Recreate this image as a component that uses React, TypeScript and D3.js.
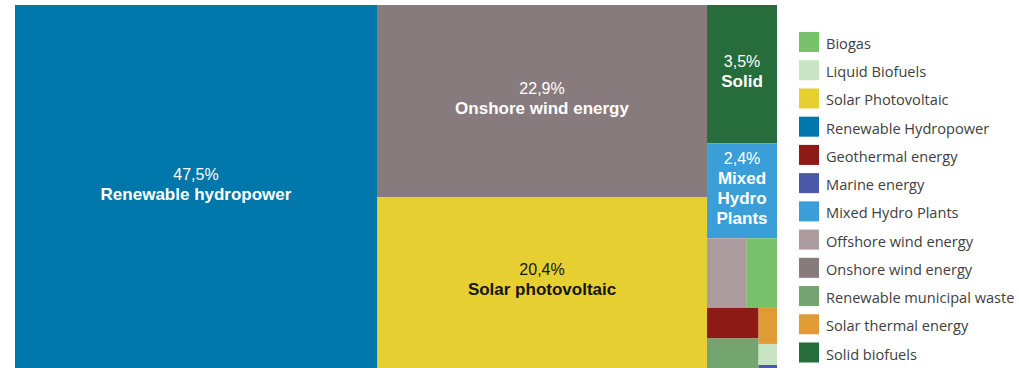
import React from 'react';
import * as d3 from 'd3';

const categories = [
  'Biogas',
  'Liquid Biofuels',
  'Solar Photovoltaic',
  'Renewable Hydropower',
  'Geothermal energy',
  'Marine energy',
  'Mixed Hydro Plants',
  'Offshore wind energy',
  'Onshore wind energy',
  'Renewable municipal waste',
  'Solar thermal energy',
  'Solid biofuels',
];
const values = [0.76, 0.14, 20.4, 47.5, 0.57, 0.02, 2.4, 1.0, 22.9, 0.55, 0.24, 3.5];
const cellLabels = [
  [],
  [],
  ['Solar photovoltaic'],
  ['Renewable hydropower'],
  [],
  [],
  ['Mixed', 'Hydro', 'Plants'],
  [],
  ['Onshore wind energy'],
  [],
  [],
  ['Solid'],
];
const colors = [
  '#77c26b',
  '#c8e4c2',
  '#e6cf30',
  '#0077aa',
  '#8d1a15',
  '#4a58a8',
  '#3a9fd8',
  '#ad9c9f',
  '#887b7e',
  '#74a46f',
  '#e09b35',
  '#266d3b',
];
const textColors = ['#fff', '#fff', '#151515', '#fff', '#fff', '#fff', '#fff', '#fff', '#fff', '#fff', '#fff', '#fff'];

const W = 1019;
const H = 368;
const TX0 = 15, TY0 = 5, TX1 = 777, TY1 = 368;

type Leaf = { name: string; value: number; idx: number };

export default function App() {
  const data = categories.map((name, i) => ({ name, value: values[i], idx: i }));
  const root = d3
    .hierarchy<any>({ children: data })
    .sum((d: any) => d.value || 0)
    .sort((a, b) => (b.value || 0) - (a.value || 0));
  d3.treemap<any>().tile(d3.treemapSquarify).size([TX1 - TX0, TY1 - TY0]).round(false)(root);
  const leaves = root.leaves() as d3.HierarchyRectangularNode<any>[];
  const fmt = (v: number) => d3.format('.1f')(v).replace('.', ',') + '%';

  const legendY = d3.scalePoint<number>().domain(d3.range(categories.length)).range([42, 352.5]);
  const lh = 20;

  return (
    <svg width={W} height={H} style={{ position: 'absolute', left: 0, top: 0, display: 'block' }}>
      <rect width={W} height={H} fill="#fff" />
      <g transform={`translate(${TX0},${TY0})`}>
        {leaves.map((l) => {
          const d = l.data as Leaf;
          return (
            <rect
              key={d.name}
              x={l.x0}
              y={l.y0}
              width={l.x1 - l.x0}
              height={l.y1 - l.y0}
              fill={colors[d.idx]}
            />
          );
        })}
        {leaves.map((l) => {
          const d = l.data as Leaf;
          const lines = cellLabels[d.idx];
          if (!lines.length) return null;
          const cx = (l.x0 + l.x1) / 2;
          const cy = (l.y0 + l.y1) / 2;
          const n = lines.length + 1;
          const first = cy - ((n - 1) * lh) / 2 + 3;
          return (
            <g key={'t' + d.name} fill={textColors[d.idx]} fontFamily="'Liberation Sans', Arial, sans-serif" textAnchor="middle">
              <text x={cx} y={first} fontSize={16}>{fmt(d.value)}</text>
              {lines.map((s, k) => (
                <text key={k} x={cx} y={first + (k + 1) * lh} fontSize={17} fontWeight="bold">{s}</text>
              ))}
            </g>
          );
        })}
      </g>
      <g>
        {categories.map((c, i) => (
          <g key={c} transform={`translate(799,${legendY(i)})`}>
            <rect x={0} y={-10} width={20} height={20} fill={colors[i]} />
            <text x={27} y={7} fontFamily="'Open Sans', sans-serif" fontSize={14.6} fill="#404040">{c}</text>
          </g>
        ))}
      </g>
    </svg>
  );
}
